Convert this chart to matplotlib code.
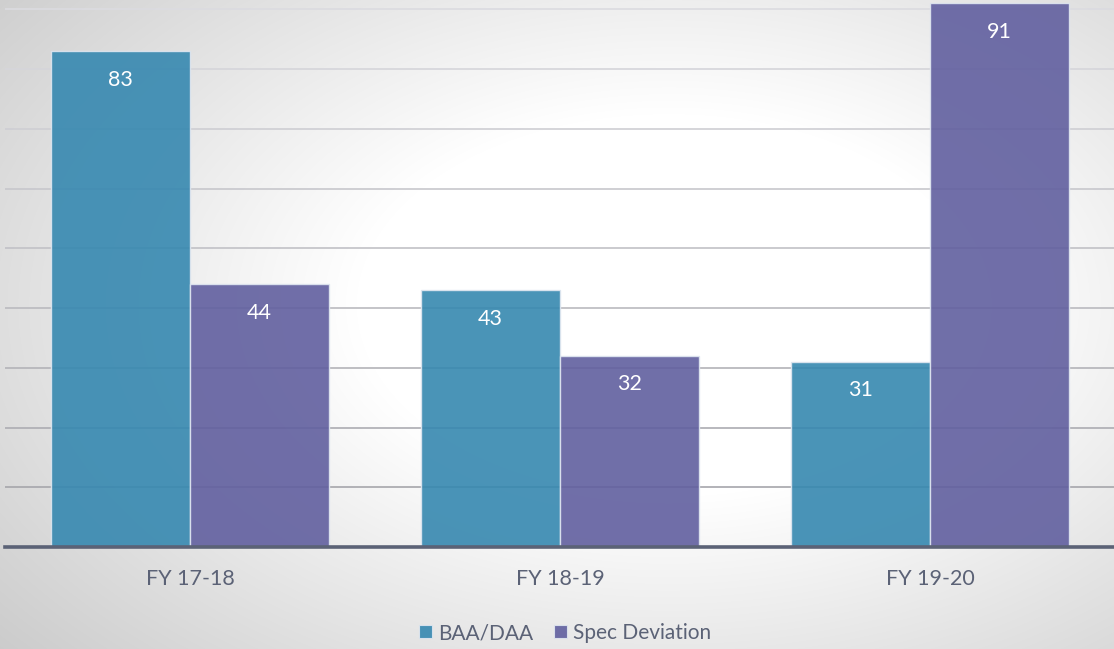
import numpy as np
import matplotlib.pyplot as plt
from matplotlib.patches import Patch

categories = ["FY 17-18", "FY 18-19", "FY 19-20"]
series_names = ["BAA/DAA", "Spec Deviation"]
baa_daa = [83, 43, 31]
spec_deviation = [44, 32, 91]

bar_colors = ["#3688b0", "#615f9f"]
text_color = "#5b6276"
font = ["Lato", "DejaVu Sans"]
fsize = 15.5

W, H = 1114, 649
fig = plt.figure(figsize=(W / 100, H / 100), dpi=100)

# soft radial backdrop: white toward the middle, grey at the corners
bg_ax = fig.add_axes([0, 0, 1, 1], zorder=0)
yy, xx = np.mgrid[0:H, 0:W]
nx = xx / W - 0.60
ny = yy / H - 0.47
d = np.sqrt(nx ** 2 + (ny * 0.95) ** 2)
shade = 1.0 - np.clip((d - 0.28) / 0.55, 0, 1) * 0.22
bg_ax.imshow(np.dstack([shade] * 3), extent=[0, 1, 0, 1], aspect="auto",
             interpolation="bilinear")
bg_ax.axis("off")

ax = fig.add_axes([5 / W, (H - 547) / H, 1110 / W, 547 / H], zorder=1)
ax.set_facecolor("none")
ax.set_xlim(-0.5, len(categories) - 0.5)
ax.set_ylim(0, 91.55)

# horizontal gridlines, darkening toward the baseline
levels = np.arange(10, 100, 10)
for lv in levels:
    t = (lv - 10) / 80
    g = 0.65 + t * (0.86 - 0.65)
    ax.axhline(lv, color=(g, g, min(g + 0.02, 1)), lw=1.2, zorder=1)

x = np.arange(len(categories))
width = 0.376
for i, (vals, name) in enumerate(zip([baa_daa, spec_deviation], series_names)):
    pos = x + (i - 0.5) * width
    bars = ax.bar(pos, vals, width=width, color=bar_colors[i], alpha=0.9,
                  edgecolor="#dfe6f0", linewidth=1.0, zorder=2, label=name)
    for b, v in zip(bars, vals):
        ax.annotate(str(v), (b.get_x() + b.get_width() / 2, v),
                    xytext=(0, -20.5), textcoords="offset points",
                    ha="center", va="center", color="white",
                    fontsize=fsize, family=font, zorder=3)

ax.axhline(0, color="#5b6276", lw=2.6, zorder=4, clip_on=False)

for s in ax.spines.values():
    s.set_visible(False)
ax.set_yticks([])
ax.set_xticks(x)
ax.set_xticklabels(categories, fontsize=fsize, color=text_color, family=font)
ax.tick_params(axis="x", length=0, pad=16)

handles = [Patch(facecolor=c, alpha=0.9, edgecolor="#dfe6f0", linewidth=0.8)
           for c in bar_colors]
fig.legend(handles, series_names, loc="center",
           bbox_to_anchor=(565 / W, 1 - 633 / H), ncol=2, frameon=False,
           handlelength=0.62, handleheight=0.62, handletextpad=0.28,
           columnspacing=1.0, prop={"family": font, "size": 15},
           labelcolor=text_color)

fig.savefig("out.png", dpi=100)
